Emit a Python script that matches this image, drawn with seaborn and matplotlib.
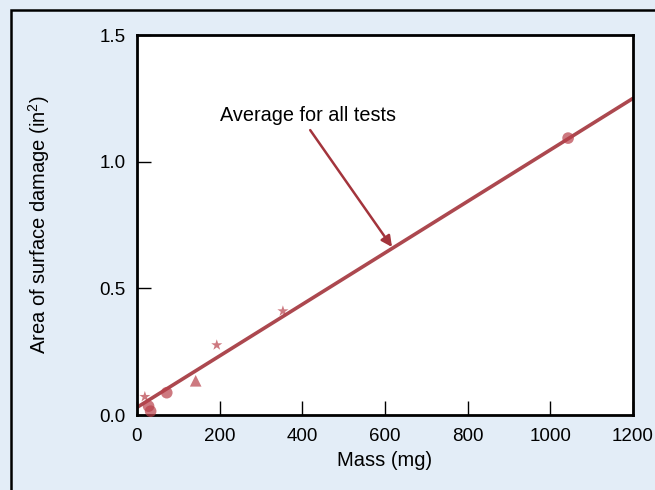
import matplotlib
matplotlib.use("Agg")
import matplotlib.pyplot as plt
import matplotlib.patches as patches
import seaborn as sns
import pandas as pd

# Data
mass = [19, 28, 33, 72, 142, 193, 353, 1043]
area = [0.072, 0.035, 0.015, 0.088, 0.135, 0.276, 0.41, 1.093]
kind = ["star", "circle", "circle", "circle", "triangle", "star", "star", "circle"]
fit_mass = [0, 1200]
fit_area = [0.03, 1.25]
xticks = [0, 200, 400, 600, 800, 1000, 1200]
yticks = [0.0, 0.5, 1.0, 1.5]
yticklabels = ["0.0", "0.5", "1.0", "1.5"]

sns.set_style("ticks")
plt.rcParams["font.family"] = ["Liberation Sans", "DejaVu Sans"]
plt.rcParams["mathtext.fontset"] = "custom"
plt.rcParams["mathtext.rm"] = "Liberation Sans"
plt.rcParams["text.color"] = "black"
plt.rcParams["axes.labelcolor"] = "black"

bg = "#E3EDF7"
red = "#A3343C"

fig = plt.figure(figsize=(6.55, 4.9), dpi=100, facecolor=bg)
ax = fig.add_axes([137/655, 1-415/490, (633-137)/655, (415-35)/490])
ax.set_facecolor("white")

pts = pd.DataFrame({"mass": mass, "area": area, "kind": kind})
fit = pd.DataFrame({"mass": fit_mass, "area": fit_area})

sns.lineplot(data=fit, x="mass", y="area", ax=ax, color=red, lw=2.6, alpha=0.9)
sns.scatterplot(data=pts, x="mass", y="area", style="kind",
                markers={"star": "*", "circle": "o", "triangle": "^"},
                ax=ax, color="#B8404A", s=70, edgecolor="none", alpha=0.7,
                legend=False, clip_on=False, zorder=3)

ax.set_xlim(0, 1200)
ax.set_ylim(0, 1.5)
ax.set_xticks(xticks)
ax.set_xticklabels([str(v) for v in xticks])
ax.set_yticks(yticks)
ax.set_yticklabels(yticklabels)
ax.tick_params(direction="in", length=10, width=1.0, labelsize=13.5, colors="black")
ax.tick_params(axis="x", pad=9)
ax.tick_params(axis="y", pad=8)
for s in ax.spines.values():
    s.set_linewidth(2)
    s.set_color("black")

ax.set_xlabel("Mass (mg)", fontsize=14.5, labelpad=5, color="black")
ax.set_ylabel("Area of surface damage (in$^2$)", fontsize=14.5, labelpad=34, color="black")

ax.annotate("Average for all tests", xy=(617, 0.663), xytext=(201, 1.184),
            fontsize=14.3, va="center", ha="left", color="black",
            arrowprops=dict(arrowstyle="-|>", color=red, lw=1.8,
                            mutation_scale=16, shrinkA=2, shrinkB=0,
                            relpos=(0.49, 0.0)))

fig.add_artist(patches.Rectangle((11/655, -0.2), 1.2, 1.2 + (1 - 10/490) - 1.0,
                                 transform=fig.transFigure, fill=False,
                                 lw=1.8, edgecolor="black"))

fig.savefig("out.png", dpi=100, facecolor=bg)
